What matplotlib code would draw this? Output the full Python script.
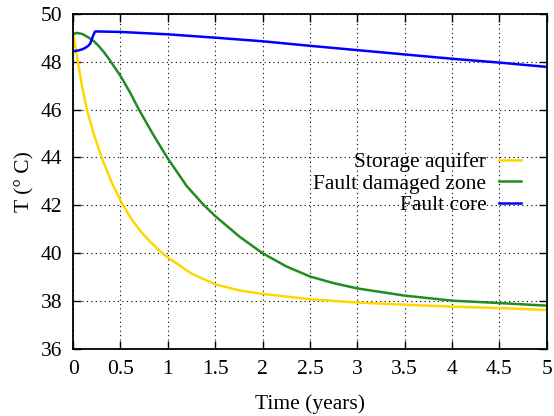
import matplotlib
matplotlib.use("Agg")
import matplotlib.pyplot as plt

plt.rcParams['font.family'] = ['Liberation Serif', 'DejaVu Serif']

# storage aquifer
t_aq = [0, 0.05, 0.095, 0.147, 0.22, 0.305, 0.41, 0.52, 0.62, 0.72, 0.82,
        0.92, 1.0, 1.25, 1.5, 1.75, 2.0, 2.5, 3.0, 3.5, 4.0, 4.5, 5.0]
T_aq = [49.2, 48.0, 46.95, 45.97, 44.95, 43.95, 42.93, 42.05, 41.4, 40.88,
        40.45, 40.08, 39.82, 39.15, 38.7, 38.45, 38.3, 38.08, 37.94, 37.85,
        37.77, 37.71, 37.63]

# fault damaged zone
t_dz = [0, 0.04, 0.1, 0.165, 0.22, 0.27, 0.32, 0.375, 0.5, 0.6, 0.69, 0.85,
        1.0, 1.2, 1.37, 1.5, 1.76, 2.0, 2.25, 2.5, 2.75, 3.0, 3.5, 4.0, 4.5,
        5.0]
T_dz = [49.15, 49.2, 49.15, 49.0, 48.85, 48.65, 48.42, 48.13, 47.4, 46.72,
        46.03, 44.92, 43.95, 42.8, 42.05, 41.55, 40.68, 40.0, 39.45, 39.03,
        38.75, 38.53, 38.23, 38.02, 37.92, 37.81]

# fault core
t_fc = [0, 0.06, 0.1, 0.13, 0.16, 0.18, 0.21, 0.23, 0.25, 0.5, 1.0, 1.5,
        2.0, 2.5, 3.0, 3.5, 4.0, 4.5, 5.0]
T_fc = [48.43, 48.47, 48.52, 48.58, 48.66, 48.75, 49.07, 49.25, 49.26,
        49.24, 49.14, 49.0, 48.85, 48.66, 48.48, 48.3, 48.12, 47.96, 47.78]

fs = 15.5

fig = plt.figure(figsize=(5.54, 4.16), dpi=100)
ax = fig.add_axes([0.132, 0.161, 0.855, 0.806])

ax.plot(t_aq, T_aq, color='#ffd700', lw=1.8, label='Storage aquifer')
ax.plot(t_dz, T_dz, color='#228b22', lw=1.8, label='Fault damaged zone')
ax.plot(t_fc, T_fc, color='#0000ff', lw=1.8, label='Fault core')

ax.set_xlim(0, 5)
ax.set_ylim(36, 50)
ax.set_xticks([0, 0.5, 1, 1.5, 2, 2.5, 3, 3.5, 4, 4.5, 5])
ax.set_xticklabels(['0', '0.5', '1', '1.5', '2', '2.5', '3', '3.5', '4', '4.5', '5'])
ax.set_yticks(range(36, 51, 2))

ax.grid(True, color='black', linestyle=(0, (1, 3)), linewidth=0.8)
ax.tick_params(direction='in', length=6, width=1, top=True, right=True,
               labelsize=fs, pad=8)
for s in ax.spines.values():
    s.set_linewidth(1.3)

ax.set_xlabel('Time (years)', fontsize=fs, labelpad=11)
ax.set_ylabel('T (° C)', fontsize=fs, labelpad=4)

ax.legend(loc='center right', bbox_to_anchor=(0.945, 0.493), frameon=False,
          markerfirst=False, fontsize=fs, handlelength=1.0, labelspacing=0.06,
          handletextpad=0.6, borderaxespad=0, borderpad=0)

fig.savefig('out.png', dpi=100)
